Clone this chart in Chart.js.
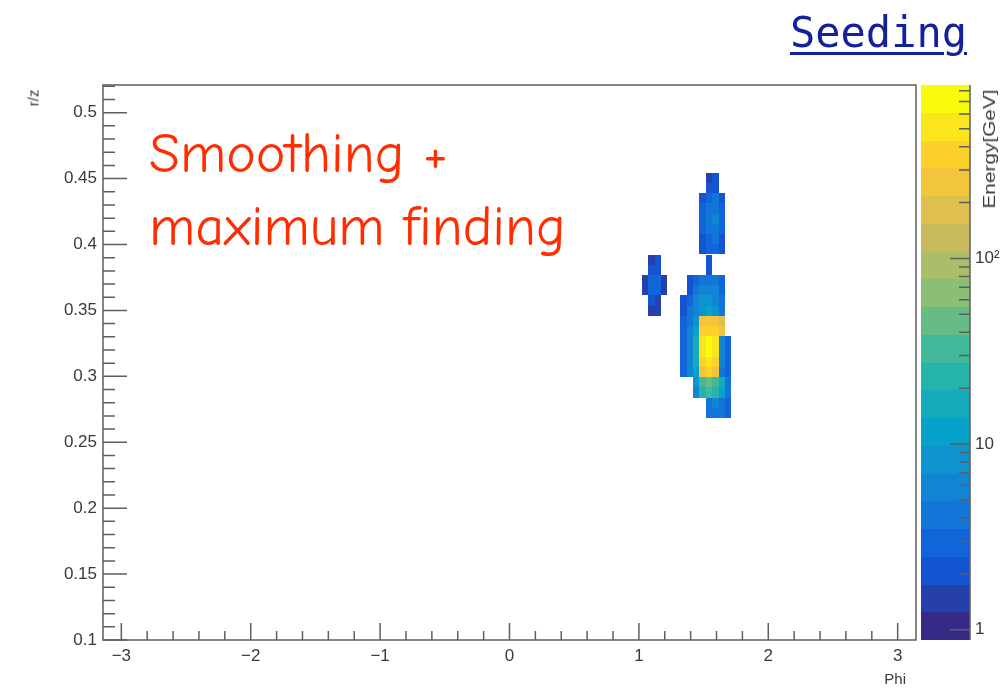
<!DOCTYPE html>
<html>
<head>
<meta charset="utf-8">
<script src="https://cdn.jsdelivr.net/npm/chart.js@4.4.1/dist/chart.umd.min.js"></script>
<style>
  html, body { margin: 0; padding: 0; background: #fff; }
  #wrap { position: relative; width: 1006px; height: 689px; overflow: hidden; }
  #Estadistica { position: absolute; left: 0; top: 0; }
  .lbl { position: absolute; font-family: "Liberation Sans", Arial, sans-serif; color: #3a3a3a; white-space: nowrap; }
  #seeding { position: absolute; left: 790px; top: 12px; font: 42px/42px "DejaVu Sans Mono", monospace; color: #14219a;
             text-decoration: underline; text-decoration-thickness: 3px; text-underline-offset: 5px; }
  #nota { position: absolute; left: 149px; top: 118px; font-family: "Comic Sans MS", "Comic Neue", Lato, sans-serif;
          font-size: 56px; line-height: 73px; color: #ff2d00; white-space: nowrap; }
  #tituloY { left: 33px; top: 98px; font-size: 15px; transform: translate(-50%, -50%) rotate(-90deg); }
  #tituloX { right: 100px; top: 670px; font-size: 15px; }
  #tituloZ { left: 990px; top: 149px; font-size: 16px; transform: translate(-50%, -50%) rotate(-90deg) scaleX(1.3); }
</style>
</head>
<body>
<div id="wrap">
  <canvas id="Estadistica" width="1006" height="689"></canvas>
  <div id="seeding">Seeding</div>
  <div id="nota">Smoothing +<br>maximum finding</div>
  <div class="lbl" id="tituloY">r/z</div>
  <div class="lbl" id="tituloX">Phi</div>
  <div class="lbl" id="tituloZ">Energy[GeV]</div>
</div>
<script>
// rangos de los ejes
const phiMin = -Math.PI, phiMax = Math.PI;
const rzMin = 0.1, rzMax = 0.521;
const zMin = 0.88, zMax = 860;
const nNiveles = 20;

const etiquetasX = [-3, -2, -1, 0, 1, 2, 3];
const etiquetasY = [0.1, 0.15, 0.2, 0.25, 0.3, 0.35, 0.4, 0.45, 0.5];
const etiquetasZ = [1, 10, 100];

// tamaño de las celdas
const anchoPhi = 0.0495;
const altoRz = 0.00775;

// centros de las celdas (columnas en phi, filas en r/z de arriba a abajo)
const phiCentros = [1.047, 1.096, 1.146, 1.195, 1.245, 1.294, 1.344, 1.393, 1.443, 1.492, 1.542, 1.591, 1.641, 1.690];
const rzCentros = [0.4505, 0.4428, 0.4350, 0.4273, 0.4195, 0.4118, 0.4040, 0.3963, 0.3885, 0.3808, 0.3730, 0.3653,
                   0.3575, 0.3498, 0.3420, 0.3343, 0.3265, 0.3188, 0.3110, 0.3033, 0.2955, 0.2878, 0.2800, 0.2723];

// energia [GeV] por celda, 0 = vacia
const energia = [
  [0,   0,   0,   0,   0, 0, 0,   0,   0,   0,   1.7, 2.0, 0,   0  ],
  [0,   0,   0,   0,   0, 0, 0,   0,   0,   0,   2.1, 2.4, 0,   0  ],
  [0,   0,   0,   0,   0, 0, 0,   0,   0,   2.3, 3.4, 3.6, 2.3, 0  ],
  [0,   0,   0,   0,   0, 0, 0,   0,   0,   2.6, 4.3, 4.6, 2.6, 0  ],
  [0,   0,   0,   0,   0, 0, 0,   0,   0,   2.8, 4.8, 5.0, 2.8, 0  ],
  [0,   0,   0,   0,   0, 0, 0,   0,   0,   2.6, 4.4, 4.5, 2.6, 0  ],
  [0,   0,   0,   0,   0, 0, 0,   0,   0,   2.3, 3.4, 3.5, 2.2, 0  ],
  [0,   0,   0,   0,   0, 0, 0,   0,   0,   2.0, 2.8, 2.9, 2.0, 0  ],
  [0,   1.6, 1.8, 0,   0, 0, 0,   0,   0,   0,   2.2, 0,   0,   0  ],
  [0,   1.8, 2.0, 0,   0, 0, 0,   0,   0,   0,   2.2, 0,   0,   0  ],
  [1.4, 3.0, 3.2, 1.5, 0, 0, 0,   2.0, 3.0, 4.0, 4.5, 4.0, 2.5, 0  ],
  [1.5, 3.2, 3.0, 1.4, 0, 0, 0,   2.2, 3.5, 5.0, 5.5, 5.0, 3.0, 0  ],
  [0,   1.9, 1.7, 0,   0, 0, 2.0, 3.0, 5.0, 7.0, 8.0, 6.5, 3.5, 0  ],
  [0,   1.7, 1.6, 0,   0, 0, 2.2, 3.5, 6.0, 9.0, 10,  8.0, 4.0, 0  ],
  [0,   0,   0,   0,   0, 0, 2.5, 4.5, 9,   230, 280, 230, 190, 0  ],
  [0,   0,   0,   0,   0, 0, 2.8, 5,   12,  320, 420, 330, 240, 0  ],
  [0,   0,   0,   0,   0, 0, 3.0, 6,   16,  500, 700, 520, 5,   2.5],
  [0,   0,   0,   0,   0, 0, 3.0, 6,   16,  520, 750, 480, 5,   2.8],
  [0,   0,   0,   0,   0, 0, 2.8, 5.5, 14,  400, 480, 350, 5,   3  ],
  [0,   0,   0,   0,   0, 0, 2.5, 5,   12,  280, 330, 250, 4.5, 3  ],
  [0,   0,   0,   0,   0, 0, 0,   0,   7,   38,  45,  36,  14,  3.5],
  [0,   0,   0,   0,   0, 0, 0,   0,   6,   24,  28,  24,  12,  3.5],
  [0,   0,   0,   0,   0, 0, 0,   0,   0,   0,   4.5, 5,   4.5, 3  ],
  [0,   0,   0,   0,   0, 0, 0,   0,   0,   0,   4,   4.5, 4,   2.5]
];

// paleta kBird de ROOT
const birdStops = [0.0, 0.125, 0.25, 0.375, 0.5, 0.625, 0.75, 0.875, 1.0];
const birdR = [0.2082, 0.0592, 0.0780, 0.0232, 0.1802, 0.5301, 0.8186, 0.9956, 0.9764];
const birdG = [0.1664, 0.3599, 0.5041, 0.6419, 0.7178, 0.7492, 0.7328, 0.7862, 0.9832];
const birdB = [0.5293, 0.8684, 0.8385, 0.7914, 0.6425, 0.4662, 0.3499, 0.1968, 0.0539];

function bird(f) {
  let i = 0;
  while (i < birdStops.length - 2 && f > birdStops[i + 1]) i++;
  const t = (f - birdStops[i]) / (birdStops[i + 1] - birdStops[i]);
  const c = a => Math.round(255 * (a[i] + t * (a[i + 1] - a[i])));
  return 'rgb(' + c(birdR) + ',' + c(birdG) + ',' + c(birdB) + ')';
}

function nivel(v) {
  let k = Math.floor(Math.log(v / zMin) / Math.log(zMax / zMin) * nNiveles);
  return Math.max(0, Math.min(nNiveles - 1, k));
}

const colorNivel = k => bird(k / (nNiveles - 1));

const celdas = [];
energia.forEach((fila, i) => {
  fila.forEach((e, j) => {
    if (e > 0) celdas.push({ x: phiCentros[j], y: rzCentros[i], e: e });
  });
});

const colorEje = '#5e5e5e';
const fuente = { family: '"Liberation Sans", Arial, sans-serif', size: 17 };

const pintarHisto = {
  id: 'pintarHisto',
  beforeDatasetsDraw(chart) {
    const ctx = chart.ctx, xs = chart.scales.x, ys = chart.scales.y;
    const area = chart.chartArea;
    ctx.save();
    ctx.beginPath();
    ctx.rect(area.left, area.top, area.right - area.left, area.bottom - area.top);
    ctx.clip();
    chart.data.datasets[0].data.forEach(c => {
      const x0 = Math.round(xs.getPixelForValue(c.x - anchoPhi / 2));
      const x1 = Math.round(xs.getPixelForValue(c.x + anchoPhi / 2));
      const y0 = Math.round(ys.getPixelForValue(c.y + altoRz / 2));
      const y1 = Math.round(ys.getPixelForValue(c.y - altoRz / 2));
      ctx.fillStyle = colorNivel(nivel(c.e));
      ctx.fillRect(x0, y0, x1 - x0, y1 - y0);
    });
    ctx.restore();
  },
  afterDraw(chart) {
    const ctx = chart.ctx, xs = chart.scales.x, ys = chart.scales.y, zs = chart.scales.z;
    const a = chart.chartArea;
    ctx.save();
    ctx.strokeStyle = colorEje;
    ctx.lineWidth = 1.5;

    // marcas del eje x (hacia dentro)
    ctx.beginPath();
    for (let k = -15; k <= 15; k++) {
      const v = k * 0.2;
      const px = xs.getPixelForValue(v);
      const largo = k % 5 === 0 ? 17 : 9;
      ctx.moveTo(px, a.bottom);
      ctx.lineTo(px, a.bottom - largo);
    }
    // marcas del eje y
    for (let k = 10; k <= 52; k++) {
      const v = k / 100;
      if (v > rzMax) break;
      const py = ys.getPixelForValue(v);
      const largo = k % 5 === 0 ? 24 : 12;
      ctx.moveTo(a.left, py);
      ctx.lineTo(a.left + largo, py);
    }
    ctx.stroke();

    // marco
    ctx.strokeRect(a.left, a.top, a.right - a.left, a.bottom - a.top);

    // barra de colores
    const bx0 = a.right + 5, bx1 = a.right + 54;
    for (let k = 0; k < nNiveles; k++) {
      const lo = zMin * Math.pow(zMax / zMin, k / nNiveles);
      const hi = zMin * Math.pow(zMax / zMin, (k + 1) / nNiveles);
      const y0 = Math.round(zs.getPixelForValue(hi));
      const y1 = Math.round(zs.getPixelForValue(lo));
      ctx.fillStyle = colorNivel(k);
      ctx.fillRect(bx0, y0, bx1 - bx0, y1 - y0);
    }
    ctx.beginPath();
    ctx.moveTo(bx1, a.top);
    ctx.lineTo(bx1, a.bottom);
    [1, 10, 100].forEach(dec => {
      for (let m = 1; m <= 9; m++) {
        const v = m * dec;
        if (v < zMin || v > zMax) continue;
        const py = zs.getPixelForValue(v);
        ctx.moveTo(bx1, py);
        ctx.lineTo(bx1 - (m === 1 ? 20 : 11), py);
      }
    });
    ctx.stroke();
    ctx.restore();
  }
};

function graficar() {
  const ctx = document.getElementById('Estadistica');
  new Chart(ctx, {
    type: 'scatter',
    data: {
      datasets: [{
        label: 'Energy[GeV]',
        data: celdas,
        pointRadius: 0,
        pointHoverRadius: 0
      }]
    },
    options: {
      responsive: false,
      animation: false,
      events: [],
      layout: { padding: { top: 85, left: 0, right: 0, bottom: 0 } },
      plugins: { legend: { display: false }, tooltip: { enabled: false } },
      scales: {
        x: {
          type: 'linear', min: phiMin, max: phiMax,
          grid: { display: false, drawTicks: false }, border: { display: false },
          afterBuildTicks: s => { s.ticks = etiquetasX.map(v => ({ value: v })); },
          afterFit: s => { s.height = 49; },
          ticks: { padding: 6, autoSkip: false, maxRotation: 0, color: '#3a3a3a', font: fuente,
                   callback: v => String(v).replace('-', '\u2212') }
        },
        y: {
          type: 'linear', min: rzMin, max: rzMax,
          grid: { display: false, drawTicks: false }, border: { display: false },
          afterBuildTicks: s => { s.ticks = etiquetasY.map(v => ({ value: v })); },
          afterFit: s => { s.width = 103; },
          ticks: { padding: 6, autoSkip: false, color: '#3a3a3a', font: fuente,
                   callback: v => String(v) }
        },
        z: {
          type: 'logarithmic', axis: 'y', position: 'right', min: zMin, max: zMax,
          grid: { display: false, drawTicks: false }, border: { display: false },
          afterBuildTicks: s => { s.ticks = etiquetasZ.map(v => ({ value: v })); },
          afterFit: s => { s.width = 90; s.paddingTop = 0; s.paddingBottom = 0; },
          ticks: { padding: 59, autoSkip: false, color: '#3a3a3a', font: fuente,
                   callback: v => (v === 100 ? '10\u00b2' : String(v)) }
        }
      }
    },
    plugins: [pintarHisto]
  });
}

graficar();
</script>
</body>
</html>
